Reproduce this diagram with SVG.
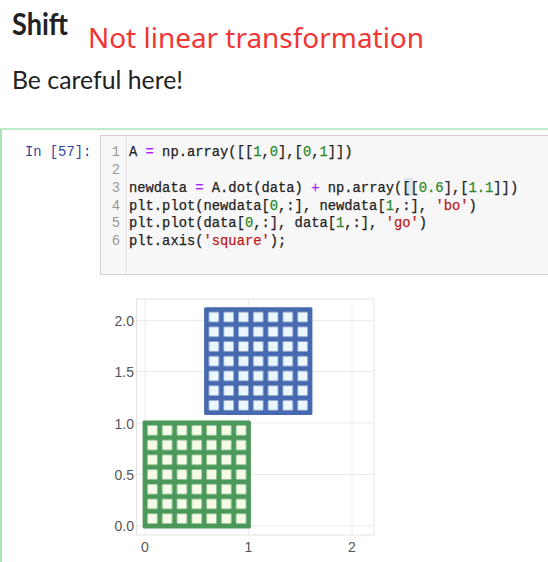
<svg xmlns="http://www.w3.org/2000/svg" width="548" height="562" viewBox="0 0 548 562">
<style>
.code{font-family:"Liberation Mono","DejaVu Sans Mono",monospace;font-size:13.8px;fill:#222;stroke:#222;stroke-width:0.25}
.ln{font-family:"Liberation Mono","DejaVu Sans Mono",monospace;font-size:13.8px;fill:#999;text-anchor:end}
.op{fill:#aa22ff;stroke:#aa22ff}
.num{fill:#2a8a2a;stroke:#2a8a2a}
.str{fill:#ba2121;stroke:#ba2121}
.tick{font-family:"Liberation Sans",Arial,sans-serif;font-size:14px;fill:#555}
.grid{stroke:#ebebeb;stroke-width:1;fill:none}
</style>
<defs>
<pattern id="gholes" patternUnits="userSpaceOnUse" x="145" y="423" width="14.786" height="14.714">
<rect x="2.5" y="2.5" width="9.786" height="9.714" fill="#f6fbe8"/>
</pattern>
<pattern id="bholes" patternUnits="userSpaceOnUse" x="206.5" y="309.7" width="14.786" height="14.714">
<rect x="2.5" y="2.5" width="9.786" height="9.714" fill="#ebf7fc"/>
</pattern>
</defs>
<rect width="548" height="562" fill="#ffffff"/>

<g id="header">
<text x="12" y="35" font-family="Lato,'Open Sans',sans-serif" font-weight="bold" font-size="31" fill="#222" textLength="56" lengthAdjust="spacingAndGlyphs">Shift</text>
<text x="88" y="48" font-family="'Noto Sans','Open Sans',sans-serif" font-size="28" fill="#f03535" textLength="336" lengthAdjust="spacingAndGlyphs">Not linear transformation</text>
<text x="12" y="89" font-family="Lato,'Open Sans',sans-serif" font-size="25" fill="#222" textLength="171" lengthAdjust="spacingAndGlyphs">Be careful here!</text>
</g>

<g id="cell">
<line x1="0" y1="129" x2="548" y2="129" stroke="#a8e4ba" stroke-width="1.5"/>
<line x1="1" y1="129" x2="1" y2="562" stroke="#a8e4ba" stroke-width="2"/>
<text x="25" y="156" font-family="'Liberation Mono',monospace" font-size="13.8" fill="#303f9f">In [57]:</text>
<rect x="100.5" y="135.5" width="460" height="139" fill="#f7f7f7" stroke="#d2d2d2" stroke-width="1"/>
<line x1="126" y1="136" x2="126" y2="274" stroke="#e2e2e2" stroke-width="1"/>
<text class="ln" x="120" y="156">1</text>
<text class="ln" x="120" y="174">2</text>
<text class="ln" x="120" y="192">3</text>
<text class="ln" x="120" y="209.5">4</text>
<text class="ln" x="120" y="227">5</text>
<text class="ln" x="120" y="245">6</text>
<rect x="404" y="178" width="9" height="18" fill="#dde3f0"/>
<text class="code" x="129" y="156" xml:space="preserve">A <tspan class="op">=</tspan> np.array([[<tspan class="num">1</tspan>,<tspan class="num">0</tspan>],[<tspan class="num">0</tspan>,<tspan class="num">1</tspan>]])</text>
<text class="code" x="129" y="192" xml:space="preserve">newdata <tspan class="op">=</tspan> A.dot(data) <tspan class="op">+</tspan> np.array([[<tspan class="num">0.6</tspan>],[<tspan class="num">1.1</tspan>]])</text>
<text class="code" x="129" y="209.5" xml:space="preserve">plt.plot(newdata[<tspan class="num">0</tspan>,:], newdata[<tspan class="num">1</tspan>,:], <tspan class="str">'bo'</tspan>)</text>
<text class="code" x="129" y="227" xml:space="preserve">plt.plot(data[<tspan class="num">0</tspan>,:], data[<tspan class="num">1</tspan>,:], <tspan class="str">'go'</tspan>)</text>
<text class="code" x="129" y="245" xml:space="preserve">plt.axis(<tspan class="str">'square'</tspan>);</text>
</g>

<g id="plot">
<rect x="136.5" y="299" width="237.5" height="236" fill="#ffffff" stroke="#e4e4e4" stroke-width="1"/>
<path class="grid" d="M145 299V535M248.5 299V535M352 299V535M137 526H374M137 474.5H374M137 423H374M137 371.5H374M137 320.5H374"/>
<text class="tick" x="134" y="326" text-anchor="end">2.0</text>
<text class="tick" x="134" y="377" text-anchor="end">1.5</text>
<text class="tick" x="134" y="428.5" text-anchor="end">1.0</text>
<text class="tick" x="134" y="479.5" text-anchor="end">0.5</text>
<text class="tick" x="134" y="531" text-anchor="end">0.0</text>
<text class="tick" x="145" y="551.5" text-anchor="middle">0</text>
<text class="tick" x="248.5" y="551.5" text-anchor="middle">1</text>
<text class="tick" x="352" y="551.5" text-anchor="middle">2</text>
</g>

<g id="green-grid">
<rect x="142.6" y="420.6" width="108.3" height="107.8" rx="1.5" fill="#4a985a"/>
<rect x="145" y="423" width="103.5" height="103" fill="url(#gholes)"/>
</g>

<g id="blue-grid">
<rect x="204.1" y="307.3" width="108.3" height="107.8" rx="1.5" fill="#4669b0"/>
<rect x="206.5" y="309.7" width="103.5" height="103" fill="url(#bholes)"/>
</g>
</svg>
